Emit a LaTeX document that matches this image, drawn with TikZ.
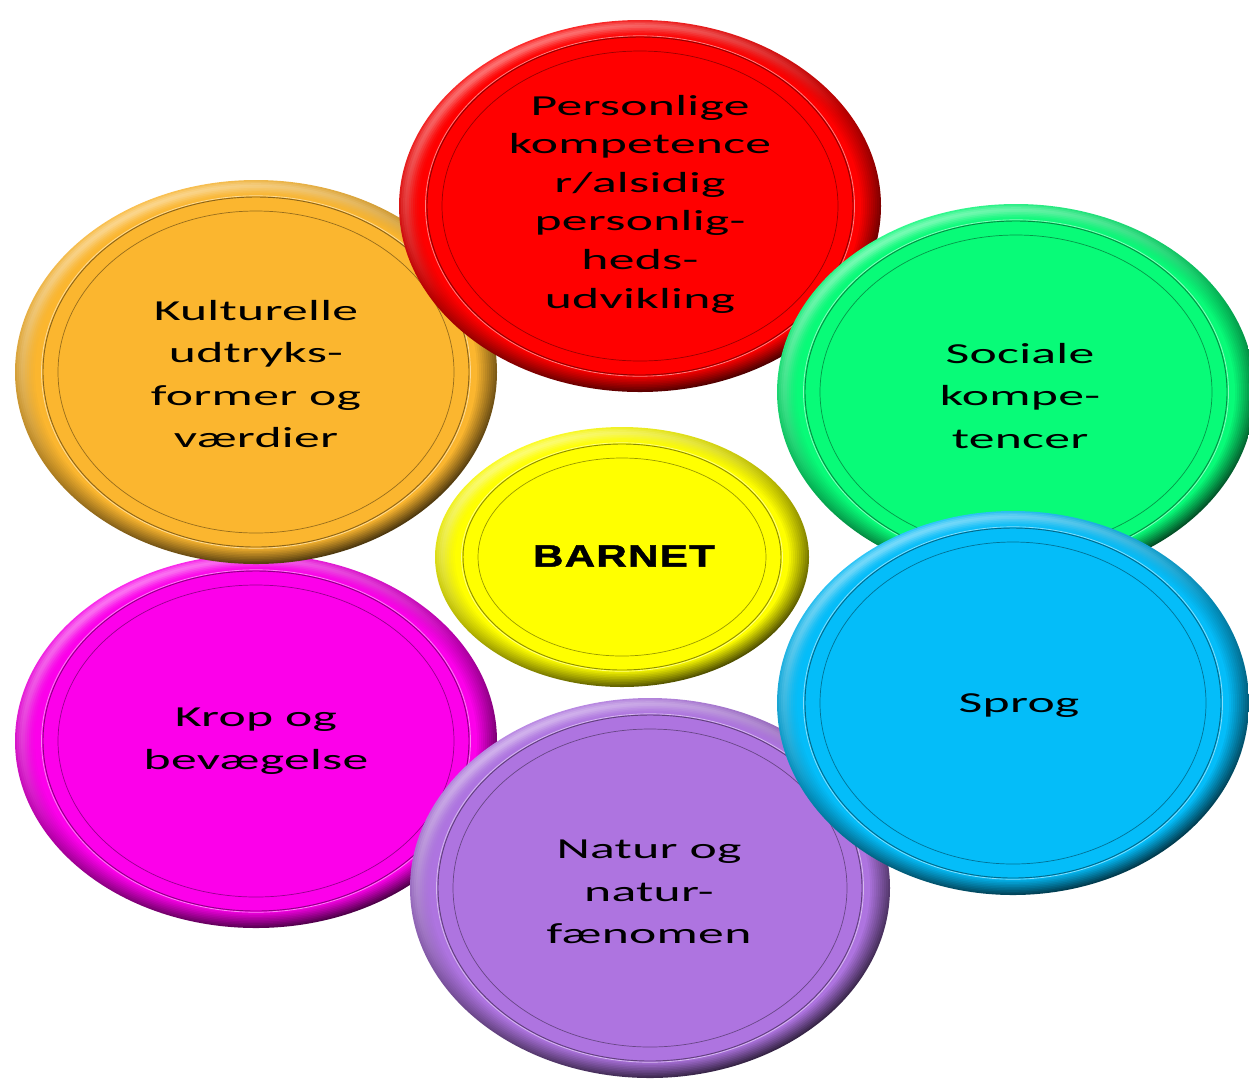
\documentclass[tikz,border=0pt]{standalone}
\usepackage{fontspec}
\newfontfamily\labfont[FakeStretch=1.78,LetterSpace=1]{Carlito}
\newfontfamily\barfont[FakeStretch=1.36,LetterSpace=4,BoldFeatures={FakeBold=1.5}]{Liberation Sans}
\definecolor{cred}{HTML}{FF0000}
\definecolor{corange}{HTML}{FBB62F}
\definecolor{cgreen}{HTML}{08FB78}
\definecolor{cyellow}{HTML}{FFFF00}
\definecolor{cblue}{HTML}{04BDF9}
\definecolor{cmagenta}{HTML}{FC00EA}
\definecolor{cpurple}{HTML}{AE74E0}
\tikzset{
  lab/.style={inner sep=0pt, align=center, text=black, font=\labfont\fontsize{29}{42.5}\selectfont},
  labred/.style={lab, font=\labfont\fontsize{29}{38.6}\selectfont},
  labbar/.style={inner sep=0pt, text=black, font=\barfont\bfseries\fontsize{31}{38}\selectfont}
}
% disc: cx cy rx ry colour
\newcommand\mydisc[5]{%
  \foreach \k/\lt in {0/18,1/30,2/40,3/46,4/42,5/33,6/24,7/15,8/8,9/3,10/0}{%
    \pgfmathtruncatemacro\tp{100-\lt}%
    \pgfmathtruncatemacro\bt{100-7*(10-\k)}%
    \pgfmathtruncatemacro\md{100-3*(10-\k)}%
    \shade[top color=#5!\tp!white, bottom color=#5!\bt!black, middle color=#5!\md!black, shading angle=25]
      (#1,#2) ellipse [x radius={(#3-2*\k)*1pt}, y radius={(#4-1.6*\k)*1pt}];
  }%
  \draw[#5!50!white, line width=0.8pt] (#1,#2) ellipse [x radius={(#3-26.5)*1pt}, y radius={(#4-15.8)*1pt}];
  \draw[#5!55!black, line width=0.9pt] (#1,#2) ellipse [x radius={(#3-28)*1pt}, y radius={(#4-17)*1pt}];
  \draw[#5!60!black, line width=0.7pt] (#1,#2) ellipse [x radius={(#3-43)*1pt}, y radius={(#4-31)*1pt}];
}
\begin{document}
\begin{tikzpicture}[x=1pt,y=-1pt]
\useasboundingbox (0,0) rectangle (1249,1080);
\mydisc{256}{741}{241}{187}{cmagenta}
\mydisc{256}{372}{241}{192}{corange}
\mydisc{640}{206}{241}{186}{cred}
\mydisc{1016}{392}{239}{188}{cgreen}
\mydisc{650}{888}{240}{190}{cpurple}
\mydisc{1013}{703}{236}{192}{cblue}
\mydisc{622}{557}{187}{130}{cyellow}
\node[labred] (personlige) at (640,204) {Personlige\\kompetence\\r/alsidig\\personlig-\\heds-\\udvikling};
\node[lab] (kultur) at (256,374) {Kulturelle\\udtryks-\\former og\\værdier};
\node[lab] (sociale) at (1020,396) {Sociale\\kompe-\\tencer};
\node[lab] (sprog) at (1019,706) {Sprog};
\node[lab] (krop) at (256,741) {Krop og\\bevægelse};
\node[lab] (natur) at (649,892) {Natur og\\natur-\\fænomen};
\node[labbar] (barnet) at (624,556) {BARNET};
\end{tikzpicture}
\end{document}
